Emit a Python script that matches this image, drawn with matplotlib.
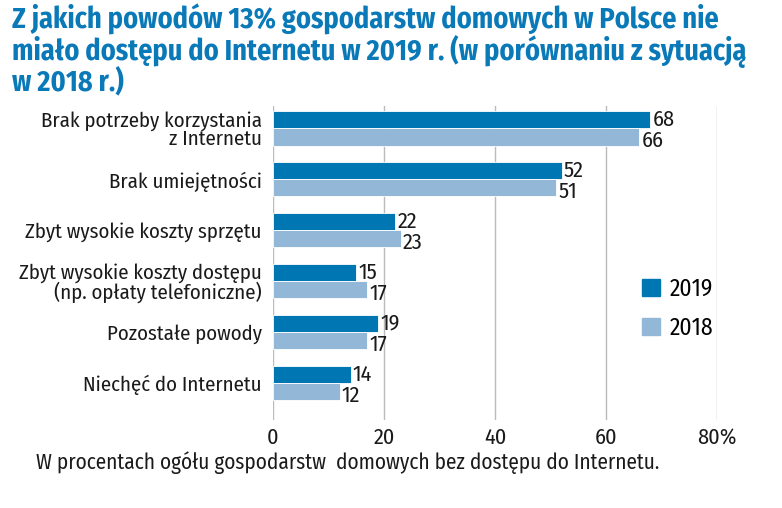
import matplotlib
matplotlib.use('Agg')
import matplotlib.pyplot as plt
from matplotlib.patches import Patch
from matplotlib import font_manager as fm

names = {f.name for f in fm.fontManager.ttflist}
FONT = next((n for n in ['Fira Sans Condensed', 'PT Sans Narrow', 'IBM Plex Sans Condensed',
                         'Roboto Condensed', 'DejaVu Sans'] if n in names), 'DejaVu Sans')
plt.rcParams['font.family'] = [FONT, 'DejaVu Sans']

categories = ["Brak potrzeby korzystania\nz Internetu", "Brak umiejętności",
              "Zbyt wysokie koszty sprzętu", "Zbyt wysokie koszty dostępu\n(np. opłaty telefoniczne)",
              "Pozostałe powody", "Niechęć do Internetu"]
v2019 = [68, 52, 22, 15, 19, 14]
v2018 = [66, 51, 23, 17, 17, 12]
xticks = [0, 20, 40, 60, 80]
xticklabels = ["0", "20", "40", "60", "80%"]

C19 = '#0077b3'
C18 = '#93b8d7'
TXT = '#1a1a1a'

fig = plt.figure(figsize=(7.82, 5.08), dpi=100)
ax = fig.add_axes([273/782, 1-420/508, 444/782, 314/508])
y = list(range(len(categories)))
h = 0.335
ax.barh([i - h/2 for i in y], v2019, height=h, color=C19, edgecolor='white', lw=0.6)
ax.barh([i + h/2 for i in y], v2018, height=h, color=C18, edgecolor='white', lw=0.6)
for i in y:
    ax.text(v2019[i] + 0.4, i - h/2 - 0.01, str(v2019[i]), va='center', ha='left', fontsize=16, color=TXT)
    ax.text(v2018[i] + 0.4, i + h/2 + 0.07, str(v2018[i]), va='center', ha='left', fontsize=16, color=TXT)

ax.set_xlim(0, 80)
ax.set_ylim(5.72, -0.44)
ax.set_xticks(xticks)
ax.set_xticklabels(xticklabels, fontsize=16, color=TXT)
ax.set_yticks(y)
ax.set_yticklabels(categories, fontsize=15, color=TXT, linespacing=0.95)
ax.tick_params(axis='x', length=0, pad=5)
ax.tick_params(axis='y', length=0, pad=8)
ax.grid(axis='x', color='#bbbbbb', lw=1)
ax.set_axisbelow(True)
for s in ax.spines.values():
    s.set_visible(False)

ax.legend(handles=[Patch(color=C19, label='2019'), Patch(color=C18, label='2018')],
          loc='center left', bbox_to_anchor=(348/444, 0.355), frameon=False, fontsize=17,
          handlelength=0.75, handleheight=0.75, handletextpad=0.4, labelspacing=0.65)

fig.text(12/782, 1-4/508,
         "Z jakich powodów 13% gospodarstw domowych w Polsce nie\n"
         "miało dostępu do Internetu w 2019 r. (w porównaniu z sytuacją\n"
         "w 2018 r.)", ha='left', va='top', fontsize=20.3, fontweight='bold',
         color='#0a79b8', linespacing=0.98)
fig.text(36/782, 1-463/508, "W procentach ogółu gospodarstw  domowych bez dostępu do Internetu.",
         ha='left', va='center', fontsize=15.3, color=TXT)

fig.savefig('out.png', dpi=100)
